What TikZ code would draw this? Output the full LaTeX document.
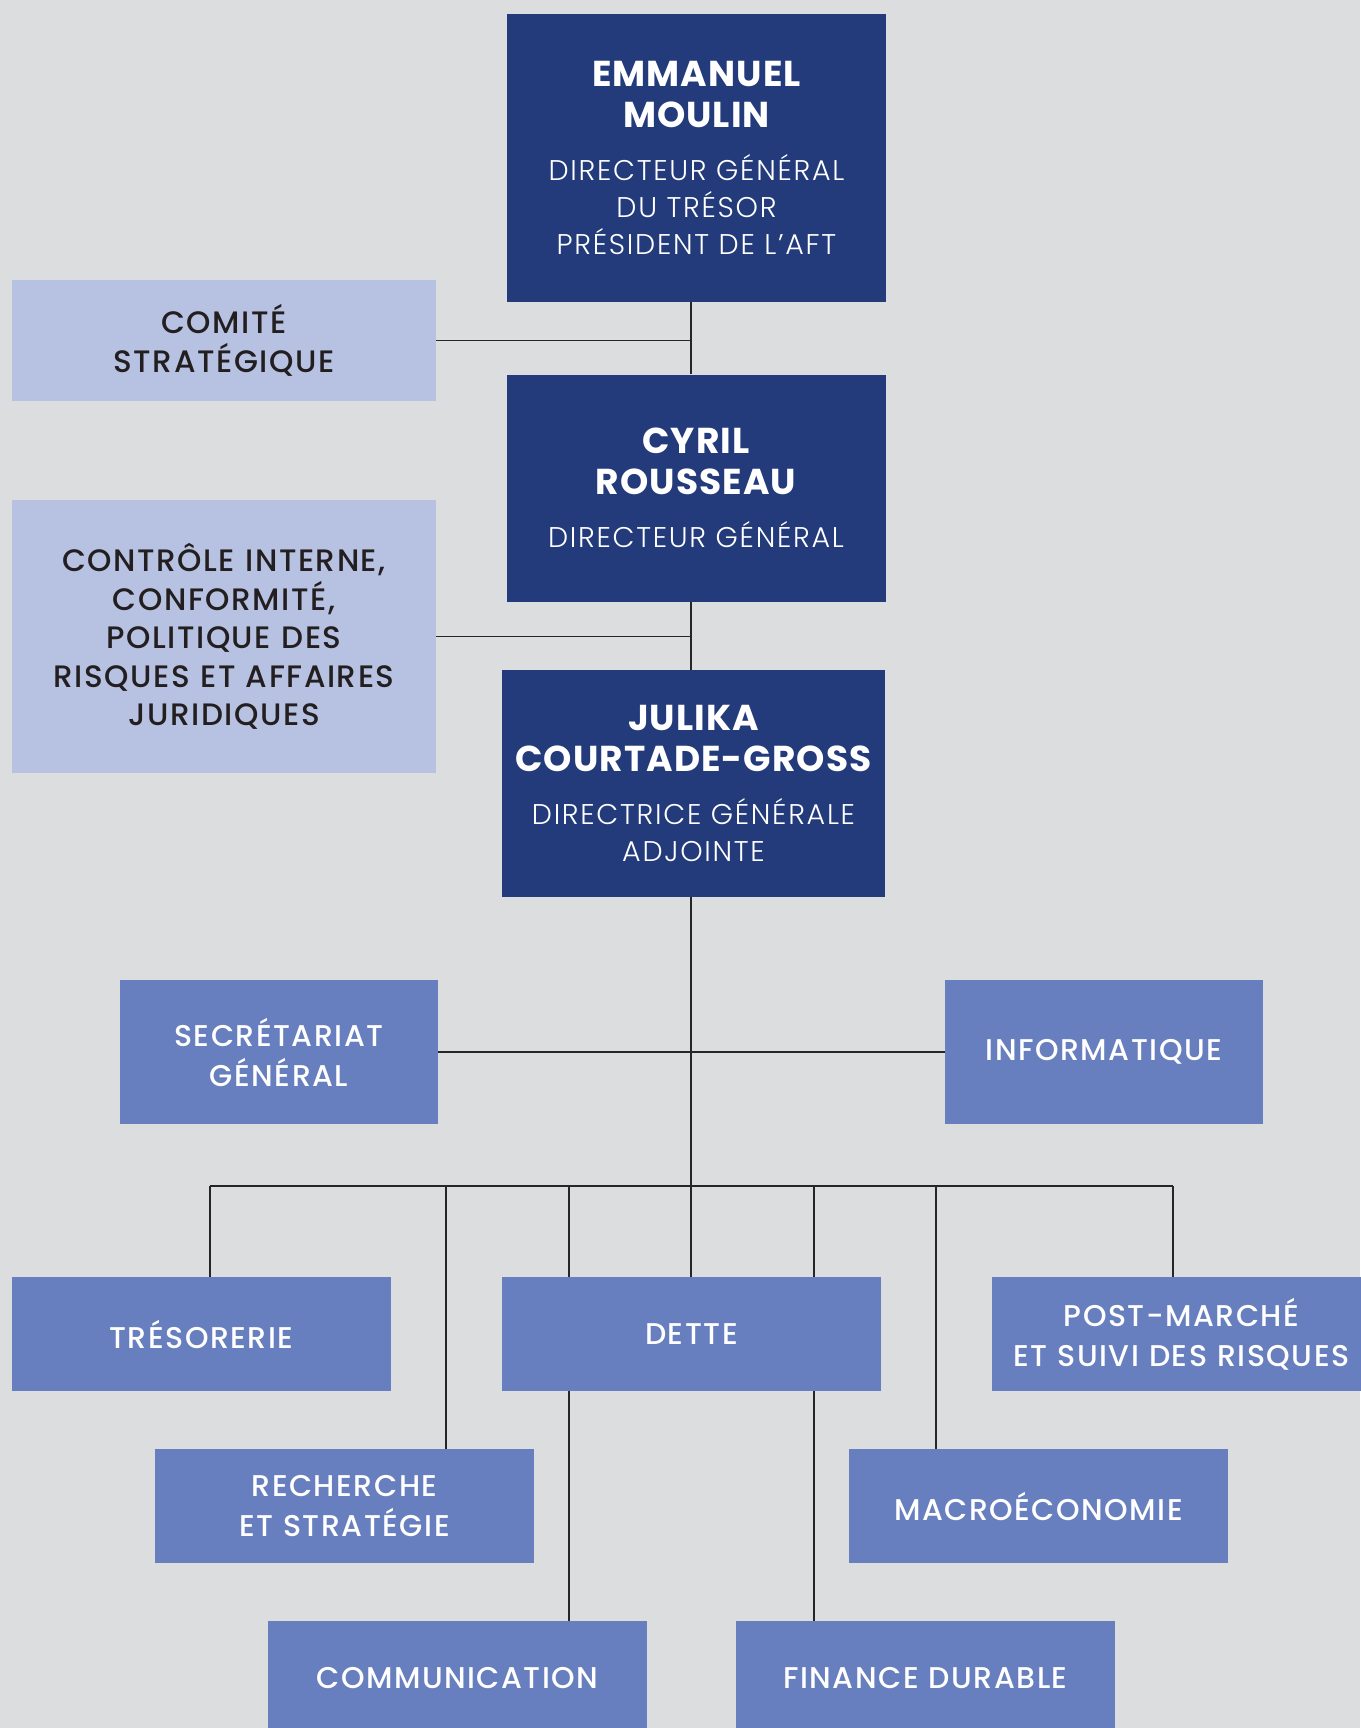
\documentclass[tikz,border=0pt]{standalone}
\usepackage{fontspec}
\setmainfont{Poppins}
\newfontfamily\lightfont{Poppins Light}[LetterSpace=6]
\newfontfamily\mediumfont{Poppins Medium}[LetterSpace=5]
\newfontfamily\heavyfont{Poppins Bold}[LetterSpace=3]

\definecolor{paper}{HTML}{DCDDDF}
\definecolor{navy}{HTML}{233A7B}
\definecolor{lavender}{HTML}{B7C2E2}
\definecolor{cobalt}{HTML}{687FBF}
\definecolor{ink}{HTML}{231F20}

\newcommand{\namefont}{\heavyfont\fontsize{36}{41}\selectfont}
\newcommand{\rolefont}{\lightfont\fontsize{28.5}{37}\selectfont}

\begin{document}
\begin{tikzpicture}
          [x=1pt,y=-1pt,
           every node/.style={rectangle,inner sep=0pt,align=center},
           chief/.style={fill=navy,text=white,align=flush center,minimum width=379pt,text width=379pt,minimum height=227pt},
           board/.style={fill=lavender,text=ink,minimum width=424pt,text width=424pt,font={\mediumfont\fontsize{31}{38.5}\selectfont}},
           unit/.style={fill=cobalt,text=white,minimum width=379pt,text width=379pt,minimum height=114pt,font={\mediumfont\fontsize{30}{40}\selectfont}},
           link/.style={draw=black!85,line width=1.3pt}]

          \fill[paper] (0,0) rectangle (1360,1728);
          \useasboundingbox (0,0) rectangle (1360,1728);

          \node[chief,minimum height=288pt] (moulin) at (696.5,158) {\namefont EMMANUEL\\MOULIN\par\vspace{16pt}\rolefont DIRECTEUR GÉNÉRAL\\DU TRÉSOR\\PRÉSIDENT DE L’AFT\par};
          \node[chief] (rousseau) at (696,488) {\namefont CYRIL\\ROUSSEAU\par\vspace{16pt}\rolefont DIRECTEUR GÉNÉRAL\par};
          \node[chief,minimum width=383pt,text width=383pt] (courtade) at (693.5,783.5) {\namefont JULIKA\\COURTADE-GROSS\par\vspace{16pt}\rolefont DIRECTRICE GÉNÉRALE\\ADJOINTE\par};

          \node[board,minimum height=121pt] (comite) at (224,340.5) {COMITÉ\\STRATÉGIQUE};
          \node[board,minimum height=273pt] (controle) at (224,636.5) {CONTRÔLE INTERNE,\\CONFORMITÉ,\\POLITIQUE DES\\RISQUES ET AFFAIRES\\JURIDIQUES};

          \node[unit,minimum width=318pt,text width=318pt,minimum height=144pt] (secretariat) at (279,1052) {SECRÉTARIAT\\GÉNÉRAL};
          \node[unit,minimum width=318pt,text width=318pt,minimum height=144pt] (informatique) at (1104,1052) {INFORMATIQUE};
          \node[unit] (tresorerie) at (201.5,1334) {TRÉSORERIE};
          \node[unit] (dette) at (691.5,1334) {DETTE};
          \node[unit] (postmarche) at (1181.5,1334) {POST-MARCHÉ\\ET SUIVI DES RISQUES};
          \node[unit] (recherche) at (344.5,1506) {RECHERCHE\\ET STRATÉGIE};
          \node[unit] (macro) at (1038.5,1506) {MACROÉCONOMIE};
          \node[unit] (communication) at (457.5,1678) {COMMUNICATION};
          \node[unit] (finance) at (925.5,1678) {FINANCE DURABLE};

          \coordinate (trunk) at (691,0);
          \coordinate (hub) at (691,1186);

          \draw[link] (moulin.south -| trunk) -- (rousseau.north -| trunk);
          \draw[link] (comite.east) -- (comite.east -| trunk);
          \draw[link] (rousseau.south -| trunk) -- (courtade.north -| trunk);
          \draw[link] (controle.east) -- (controle.east -| trunk);
          \draw[link] (courtade.south -| trunk) -- (hub);
          \draw[link] (secretariat.east) -- (informatique.west);

          \foreach \n/\x [count=\i] in {tresorerie/210,recherche/446,dette/569,dette/691,dette/814,macro/936,postmarche/1173} {
            \coordinate (drop\i) at (\x,1186);
            \draw[link] (drop\i) -- (drop\i |- \n.north);
          }
          \draw[link] (drop1) -- (drop7);
          \draw[link] (dette.south -| drop3) -- (communication.north -| drop3);
          \draw[link] (dette.south -| drop5) -- (finance.north -| drop5);
        \end{tikzpicture}
\end{document}
